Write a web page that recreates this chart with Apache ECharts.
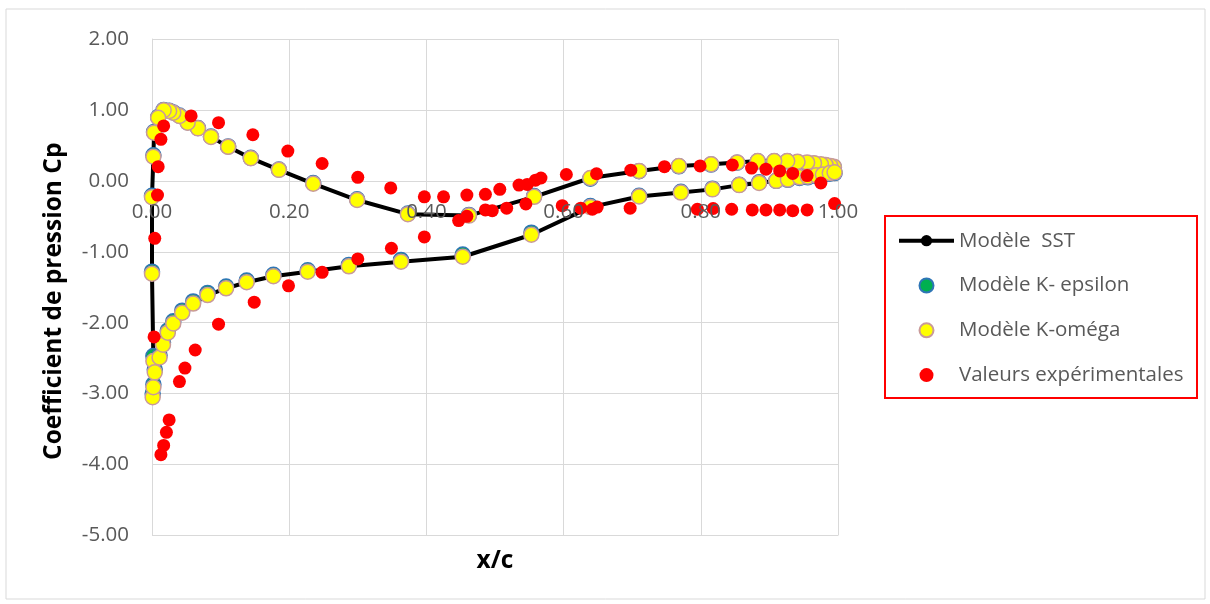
<!DOCTYPE html>
<html>
<head>
<meta charset="utf-8">
<script src="https://cdn.jsdelivr.net/npm/echarts@6/dist/echarts.min.js"></script>
<style>
html,body{margin:0;padding:0;background:#fff;}
#chart{width:1210px;height:604px;}
</style>
</head>
<body>
<div id="chart"></div>
<script>
// ---- data ----
const xTicks = [0, 0.2, 0.4, 0.6, 0.8, 1.0];
const yTicks = [-5, -4, -3, -2, -1, 0, 1, 2];

const seriesNames = ['Modèle  SST', 'Modèle K- epsilon', 'Modèle K-oméga', 'Valeurs expérimentales'];

// Modèle SST (x/c, Cp) : upper branch TE -> LE, then lower branch LE -> TE
const sstX = [0.994,0.989,0.982,0.975,0.965,0.955,0.941,0.926,0.907,0.883,0.853,0.815,0.768,0.71,0.639,0.557,0.462,0.373,0.299,0.235,0.185,0.144,0.111,0.086,0.067,0.052,0.04,0.031,0.025,0.017,0.009,0.003,0.002,0,
              0,0.002,0.001,0.002,0.004,0.011,0.016,0.023,0.031,0.044,0.06,0.081,0.108,0.138,0.177,0.227,0.287,0.363,0.453,0.553,0.639,0.71,0.771,0.817,0.856,0.885,0.91,0.927,0.944,0.956,0.968,0.978,0.988,0.995];
const sstY = [0.20,0.21,0.225,0.235,0.25,0.26,0.27,0.28,0.28,0.28,0.26,0.235,0.21,0.14,0.04,-0.225,-0.49,-0.47,-0.27,-0.04,0.155,0.32,0.48,0.62,0.74,0.82,0.915,0.96,0.985,0.995,0.89,0.68,0.34,-0.23,
              -1.31,-2.54,-3.05,-2.91,-2.70,-2.49,-2.31,-2.14,-2.01,-1.86,-1.73,-1.61,-1.515,-1.43,-1.345,-1.28,-1.205,-1.14,-1.07,-0.76,-0.37,-0.22,-0.165,-0.12,-0.06,-0.03,0.0,0.02,0.05,0.06,0.08,0.09,0.11,0.12];

// Modèle K-epsilon
const kepsX = [0.994,0.989,0.982,0.975,0.965,0.955,0.941,0.926,0.907,0.883,0.853,0.815,0.768,0.71,0.639,0.557,0.462,0.373,0.299,0.235,0.185,0.144,0.111,0.086,0.067,0.052,0.04,0.031,0.025,0.017,0.009,0.003,0.002,0,
               0,0.002,0.001,0.002,0.004,0.011,0.016,0.023,0.031,0.044,0.06,0.081,0.108,0.138,0.177,0.227,0.287,0.363,0.453,0.553,0.639,0.71,0.771,0.817,0.856,0.885,0.91,0.927,0.944,0.956,0.968,0.978,0.988,0.995];
const kepsY = [0.19,0.20,0.215,0.225,0.24,0.25,0.26,0.275,0.275,0.275,0.255,0.23,0.205,0.135,0.03,-0.215,-0.48,-0.46,-0.26,-0.03,0.16,0.325,0.485,0.625,0.745,0.825,0.92,0.965,0.99,1.0,0.90,0.69,0.36,-0.21,
               -1.28,-2.47,-3.0,-2.87,-2.66,-2.46,-2.28,-2.11,-1.98,-1.83,-1.70,-1.58,-1.49,-1.405,-1.325,-1.26,-1.185,-1.115,-1.04,-0.73,-0.355,-0.21,-0.155,-0.11,-0.055,-0.02,0.0,0.015,0.04,0.05,0.07,0.08,0.10,0.11];

// Modèle K-oméga
const komX = [0.994,0.989,0.982,0.975,0.965,0.955,0.941,0.926,0.907,0.883,0.853,0.815,0.768,0.71,0.639,0.557,0.462,0.373,0.299,0.235,0.185,0.144,0.111,0.086,0.067,0.052,0.04,0.031,0.025,0.017,0.009,0.003,0.002,0,
              0,0.002,0.001,0.002,0.004,0.011,0.016,0.023,0.031,0.044,0.06,0.081,0.108,0.138,0.177,0.227,0.287,0.363,0.453,0.553,0.639,0.71,0.771,0.817,0.856,0.885,0.91,0.927,0.944,0.956,0.968,0.978,0.988,0.995];
const komY = [0.20,0.21,0.225,0.235,0.25,0.26,0.27,0.28,0.28,0.28,0.26,0.235,0.21,0.14,0.04,-0.225,-0.49,-0.47,-0.27,-0.04,0.155,0.32,0.48,0.62,0.74,0.82,0.915,0.96,0.985,0.995,0.89,0.68,0.34,-0.23,
              -1.31,-2.54,-3.05,-2.91,-2.70,-2.49,-2.31,-2.14,-2.01,-1.86,-1.73,-1.61,-1.515,-1.43,-1.345,-1.28,-1.205,-1.14,-1.07,-0.76,-0.37,-0.22,-0.165,-0.12,-0.06,-0.03,0.0,0.02,0.05,0.06,0.08,0.09,0.11,0.12];

// Valeurs expérimentales
const expX = [0.004,0.008,0.009,0.013,0.017,0.057,0.097,0.147,0.198,0.248,0.3,0.348,0.397,0.425,0.459,0.486,0.507,0.535,0.547,0.559,0.567,0.604,0.648,0.698,0.747,0.799,0.846,0.874,0.895,0.915,0.934,0.955,0.975,
              0.003,0.013,0.017,0.021,0.025,0.04,0.048,0.063,0.097,0.149,0.199,0.248,0.3,0.349,0.397,0.447,0.459,0.486,0.496,0.517,0.545,0.598,0.625,0.642,0.649,0.697,0.795,0.818,0.845,0.875,0.895,0.915,0.934,0.955,0.995];
const expY = [-0.81,-0.2,0.2,0.585,0.775,0.915,0.82,0.65,0.42,0.245,0.05,-0.1,-0.225,-0.225,-0.2,-0.19,-0.12,-0.06,-0.05,0.01,0.04,0.09,0.1,0.15,0.2,0.21,0.225,0.18,0.165,0.14,0.105,0.075,-0.03,
              -2.2,-3.86,-3.73,-3.545,-3.37,-2.83,-2.64,-2.385,-2.02,-1.71,-1.48,-1.29,-1.1,-0.95,-0.79,-0.56,-0.5,-0.41,-0.42,-0.385,-0.325,-0.35,-0.385,-0.4,-0.37,-0.385,-0.4,-0.39,-0.4,-0.41,-0.41,-0.41,-0.42,-0.41,-0.32];

// ---- chart ----
const pair = (xs, ys) => xs.map((x, i) => [x, ys[i]]);
const FONT = '"Open Sans", "Liberation Sans", sans-serif';
const GRID = '#d9d9d9';
const TXT = '#595959';
const xMin = xTicks[0], xMax = xTicks[xTicks.length - 1];

const chart = echarts.init(document.getElementById('chart'), null, {renderer: 'canvas'});
chart.setOption({
  backgroundColor: '#ffffff',
  animation: false,
  textStyle: {fontFamily: FONT},
  grid: {left: 152, right: 372, top: 39, bottom: 68.5, containLabel: false},
  xAxis: [{
    // gridlines + axis title (behind the marks)
    type: 'value', min: xMin, max: xMax, interval: 0.2, position: 'bottom',
    axisLine: {show: false, onZero: false},
    axisTick: {show: false},
    axisLabel: {show: false},
    splitLine: {show: true, lineStyle: {color: GRID, width: 1}},
    name: 'x/c', nameLocation: 'middle', nameGap: 13,
    nameTextStyle: {color: '#000', fontWeight: 'bold', fontSize: 24.5, fontFamily: FONT}
  }, {
    // tick labels, drawn above the marks just under the Cp = 0 line
    type: 'value', min: xMin, max: xMax, interval: 0.2, position: 'bottom',
    zlevel: 1, z: 20,
    axisLine: {show: false, onZero: false},
    axisTick: {show: false},
    splitLine: {show: false},
    axisLabel: {color: TXT, fontSize: 20.5, fontFamily: FONT, margin: -333.5,
      formatter: v => v.toFixed(2)}
  }],
  yAxis: {
    type: 'value', min: yTicks[0], max: yTicks[yTicks.length - 1], interval: 1,
    axisLine: {show: true, onZero: false, lineStyle: {color: GRID, width: 1}},
    axisTick: {show: false},
    axisLabel: {color: TXT, fontSize: 20.5, fontFamily: FONT, margin: 23,
      formatter: v => v.toFixed(2)},
    splitLine: {show: true, lineStyle: {color: GRID, width: 1}},
    name: 'Coefficient de pression Cp', nameLocation: 'middle', nameRotate: 90, nameGap: 85,
    nameTextStyle: {color: '#000', fontWeight: 'bold', fontSize: 24.5, fontFamily: FONT,
      padding: [0, 28, 0, 0]}
  },
  legend: {
    orient: 'vertical', left: 897, top: 229.7, padding: 0,
    itemWidth: 55, itemHeight: 14, itemGap: 22.8,
    textStyle: {color: TXT, fontSize: 20.5, fontFamily: FONT, lineHeight: 22},
    data: [
      {name: seriesNames[0], lineStyle: {width: 4, color: '#000'}},
      {name: seriesNames[1]},
      {name: seriesNames[2]},
      {name: seriesNames[3]}
    ]
  },
  graphic: [
    {type: 'rect', silent: true, z: -10, shape: {x: 6, y: 9, width: 1199, height: 590},
     style: {fill: 'none', stroke: GRID, lineWidth: 1}},
    {type: 'rect', silent: true, shape: {x: 885, y: 216, width: 312, height: 182},
     style: {fill: 'none', stroke: '#ff0000', lineWidth: 2}}
  ],
  series: [
    {name: seriesNames[0], type: 'line', data: pair(sstX, sstY),
     lineStyle: {color: '#000', width: 4}, itemStyle: {color: '#000'},
     symbol: 'circle', symbolSize: 12, showAllSymbol: true, z: 2},
    {name: seriesNames[1], type: 'scatter', data: pair(kepsX, kepsY),
     symbol: 'circle', symbolSize: 15,
     itemStyle: {color: '#00b050', borderColor: '#2e75b6', borderWidth: 1.5, opacity: 1}, z: 3},
    {name: seriesNames[2], type: 'scatter', data: pair(komX, komY),
     symbol: 'circle', symbolSize: 15,
     itemStyle: {color: '#ffff00', borderColor: '#c99a9a', borderWidth: 1.5, opacity: 1}, z: 4},
    {name: seriesNames[3], type: 'scatter', data: pair(expX, expY),
     symbol: 'circle', symbolSize: 13,
     itemStyle: {color: '#ff0000', opacity: 1}, z: 5}
  ]
});
</script>
</body>
</html>
